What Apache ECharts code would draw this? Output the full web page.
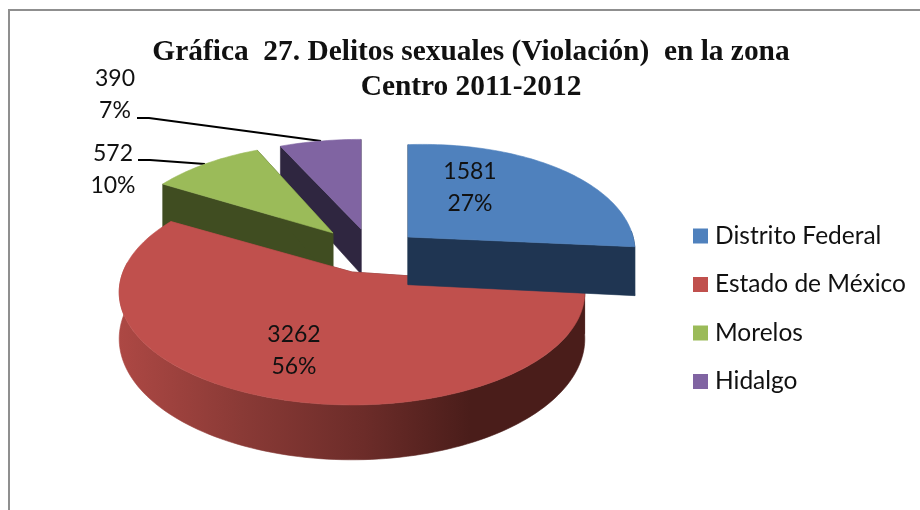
<!DOCTYPE html>
<html><head><meta charset="utf-8">
<style>html,body{margin:0;padding:0;background:#fff}#c{width:920px;height:510px}</style>
<script src="https://cdn.jsdelivr.net/npm/echarts@6/dist/echarts.min.js"></script>
</head><body><div id="c"></div>
<script>
const categories = ['Distrito Federal', 'Estado de México', 'Morelos', 'Hidalgo'];
const values = [1581, 3262, 572, 390];
const colors = ['#4f81bd', '#c0504d', '#9bbb59', '#8064a2'];
const titleText = 'Gráfica  27. Delitos sexuales (Violación)  en la zona\nCentro 2011-2012';

const wallColors = [
  '#1f3552',
  { type: 'linear', x: 118, y: 0, x2: 470, y2: 0, global: true,
    colorStops: [{ offset: 0, color: '#ad4844' }, { offset: 0.35, color: '#8a3a36' },
                 { offset: 0.7, color: '#6c2c29' }, { offset: 1, color: '#4a1d1a' }] },
  '#404d21',
  '#2f2640'
];
// Projection layout for each exploded slice: apex position, radial scales, tilt, depth scale, label centre.
const layout = [
  { ax: 408, ay: 237, sx: 0.975, sy: 1, tilt: 6, sd: 1.06, lx: 470, ly: 188 },
  { ax: 352, ay: 272, sx: 1, sy: 1, tilt: 0, sd: 1, lx: 294, ly: 351 },
  { ax: 333, ay: 233, sx: 0.94, sy: 0.97, tilt: 0, sd: 1.07, lx: 113, ly: 170 },
  { ax: 361, ay: 229, sx: 1, sy: 0.97, tilt: 0, sd: 1, lx: 115, ly: 95 }
];
const R = 229, RK = 109, PERSP = 0.18, DEPTH = 45;
const total = values.reduce((a, b) => a + b, 0);

function project(l, deg) {
  const t = deg * Math.PI / 180, u = Math.sin(t), v = -Math.cos(t);
  const p = 1 / (1 - PERSP * v);
  return { x: l.ax + R * l.sx * u * p, y: l.ay + RK * l.sy * v * p - l.tilt * u, d: DEPTH * l.sd * p };
}
function arc(l, a, b) {
  const out = [], n = Math.max(2, Math.ceil(Math.abs(b - a) / 1.5));
  for (let i = 0; i <= n; i++) out.push(project(l, a + (b - a) * i / n));
  return out;
}
function poly(points, fill) {
  return { type: 'polygon', shape: { points },
           style: { fill, stroke: fill, lineWidth: 0.6 } };
}
function renderSlice(idx) {
  return function (params, api) {
    const value = api.value(0);
    let before = 0;
    for (let i = 0; i < idx; i++) before += values[i];
    const a0 = before / total * 360, a1 = (before + value) / total * 360;
    const l = layout[idx], wall = wallColors[idx], children = [];
    const ax = l.ax, ay = l.ay, dA = DEPTH * l.sd;
    // radial cut faces
    [a0, a1].forEach(a => {
      const e = project(l, a);
      children.push(poly([[ax, ay], [e.x, e.y], [e.x, e.y + e.d], [ax, ay + dA]], wall));
    });
    // outer wall on the near side
    const w0 = Math.max(a0, 90), w1 = Math.min(a1, 275);
    if (w1 > w0) {
      const pts = arc(l, w0, w1);
      children.push(poly(pts.map(p => [p.x, p.y]).concat(
        pts.slice().reverse().map(p => [p.x, p.y + p.d])), wall));
    }
    // top face
    const top = arc(l, a0, a1).map(p => [p.x, p.y]);
    children.push(poly([[ax, ay]].concat(top), colors[idx]));
    children.push({ type: 'text', x: l.lx, y: l.ly, z2: 10,
      style: { text: value + '\n' + Math.round(value / total * 100) + '%',
        fill: '#111', font: '23px Lato', lineHeight: 32, align: 'center', verticalAlign: 'middle' } });
    return { type: 'group', children };
  };
}
// Draw order back to front: Hidalgo, Morelos, Estado de México, Distrito Federal
const drawOrder = [3, 2, 1, 0];
const chart = echarts.init(document.getElementById('c'), null, { renderer: 'canvas' });
chart.setOption({
  animation: false,
  backgroundColor: '#fff',
  title: { text: titleText, left: 466, top: 30, textAlign: 'center',
    textStyle: { fontFamily: 'Liberation Serif', fontWeight: 'bold', fontSize: 29.4, lineHeight: 35, color: '#111' } },
  legend: { data: categories, orient: 'vertical', left: 688, top: 216, itemWidth: 15, itemHeight: 15,
    itemGap: 18.5, icon: 'rect',
    textStyle: { fontFamily: 'Lato', fontSize: 24.5, color: '#111', padding: [0, 0, 0, 2], lineHeight: 30 } },
  graphic: [
    { type: 'polyline', shape: { points: [[920, 10], [9, 10], [9, 510]] }, style: { stroke: '#8f8f8f', lineWidth: 2, fill: 'none' } },
    { type: 'polyline', shape: { points: [[137, 118], [149, 118], [321, 141]] }, style: { stroke: '#000', lineWidth: 2, fill: 'none' } },
    { type: 'polyline', shape: { points: [[138, 160], [150, 160], [205, 164]] }, style: { stroke: '#000', lineWidth: 2, fill: 'none' } }
  ],
  series: drawOrder.map(i => ({
    type: 'custom', name: categories[i], coordinateSystem: 'none', silent: true,
    itemStyle: { color: colors[i] }, data: [[values[i]]], renderItem: renderSlice(i)
  }))
});
</script></body></html>
